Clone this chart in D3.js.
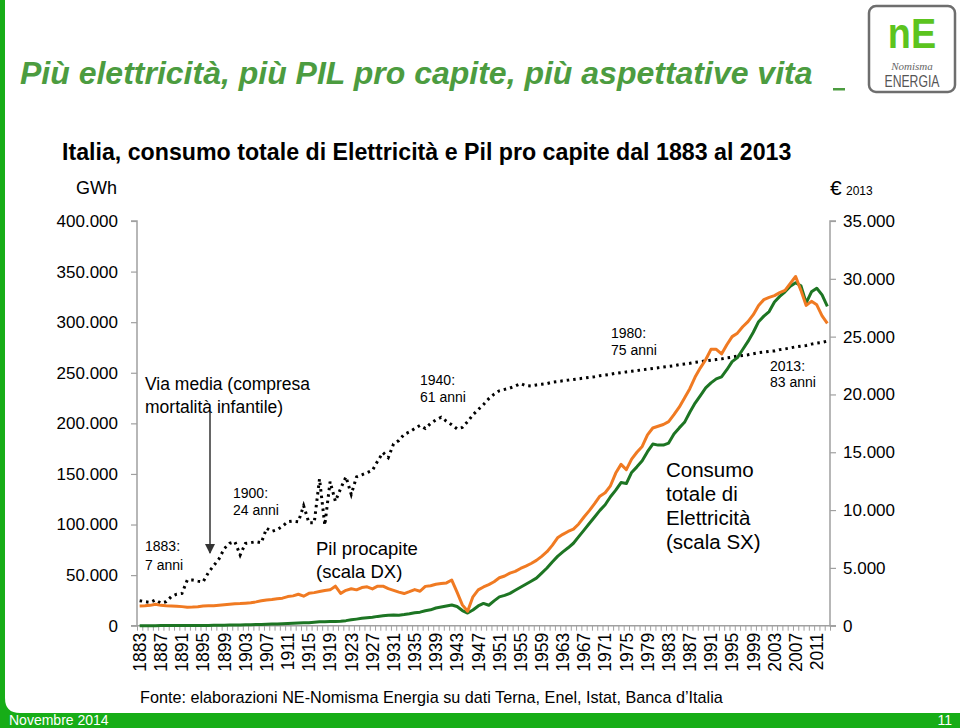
<!DOCTYPE html>
<html><head><meta charset="utf-8">
<script src="https://cdn.jsdelivr.net/npm/d3@7"></script>
<style>
html,body{margin:0;padding:0;background:#fff;}
svg{display:block;font-family:Arial,"Liberation Sans",sans-serif;}
</style></head>
<body>
<svg id="chart" width="960" height="728"></svg>
<script>
// ---------- DATA ----------
const years = d3.range(1883, 2014);
const labelYears = d3.range(1883, 2013, 4);
const leftTicks = [0, 50000, 100000, 150000, 200000, 250000, 300000, 350000, 400000];
const rightTicks = [0, 5000, 10000, 15000, 20000, 25000, 30000, 35000];

// Pil procapite (€ 2013), right scale
const gdpPerCapita = [
 1700,1720,1760,1850,1760,1720,1700,1690,1650,1600, // 1883-1892
 1610,1640,1700,1720,1730,1770,1820,1860,1890,1910, // 1893-1902
 1950,1990,2060,2150,2230,2260,2330,2380,2520,2580, // 1903-1912
 2720,2550,2800,2860,2950,3050,3100,3420,2800,3060, // 1913-1922
 3200,3100,3300,3360,3180,3420,3420,3200,3050,2900, // 1923-1932
 2780,2940,3120,2980,3400,3460,3580,3640,3700,3950, // 1933-1942
 2900,1800,1250,2500,3100,3350,3550,3800,4150,4300, // 1943-1952
 4550,4700,4950,5150,5380,5650,6000,6400,6950,7600, // 1953-1962
 7900,8150,8350,8800,9400,9950,10550,11200,11500,12100, // 1963-1972
 13200,13950,13500,14400,15000,15500,16500,17100,17250,17400, // 1973-1982
 17650,18250,18900,19700,20500,21500,22300,23000,23900,23900, // 1983-1992
 23500,24300,25000,25300,25850,26300,26900,27700,28200,28400, // 1993-2002
 28550,28800,29000,29600,30200,29000,27700,28050,27750,26800, // 2003-2012
 26150 // 2013
];

// Consumo totale di elettricità (GWh), left scale
const electricity = [
 10,20,40,60,80,100,120,150,170,190,               // 1883-1892
 210,230,260,300,350,420,500,600,700,800,          // 1893-1902
 900,1000,1150,1300,1450,1600,1750,1950,2150,2400, // 1903-1912
 2600,2800,3000,3400,3800,4000,4100,4200,4500,5000, // 1913-1922
 5800,6500,7300,7800,8400,9200,9800,10400,10500,10400, // 1923-1932
 11000,11800,12800,13400,14800,15700,17500,18500,19500,20500, // 1933-1942
 19000,15000,12500,15500,19500,22000,20200,24500,28500,30000, // 1943-1952
 32000,35000,38000,41000,44000,47000,52000,57000,63000,68500, // 1953-1962
 73000,77000,81500,88000,94500,101000,107500,114000,119500,127500, // 1963-1972
 134000,141500,140500,151500,157000,163000,172000,179500,178500,178500, // 1973-1982
 180500,189500,195500,201000,211000,220000,227500,235000,240000,244000, // 1983-1992
 246000,253000,261000,265000,273000,281000,290000,300500,306000,310500, // 1993-2002
 320000,325500,330000,335500,339000,336000,319000,330000,333500,327000, // 2003-2012
 315500 // 2013
];

// Vita media (anni), hidden scale
const lifeExpectancy = [
 7.3,7.0,6.8,7.5,6.6,7.0,8.5,9.2,9.4,13.3,         // 1883-1892
 13.3,13.0,12.8,15.5,17.5,19.5,22.5,24.0,24.5,20.6, // 1893-1902
 24.0,24.2,24.5,24.2,28.4,27.5,28.0,29.0,30.3,30.5, // 1903-1912
 30.3,35.0,30.0,30.0,42.8,29.3,42.0,36.3,40.0,43.4, // 1913-1922
 38.3,43.4,44.0,44.6,45.3,48.0,50.5,49.0,53.0,54.0, // 1923-1932
 55.8,56.5,57.5,58.4,57.5,59.0,60.0,60.8,59.6,58.6, // 1933-1942
 57.4,57.8,59.5,61.5,63.0,64.5,66.2,67.5,68.5,68.9, // 1943-1952
 69.3,69.9,70.6,70.0,69.9,70.2,70.4,70.6,71.0,71.2, // 1953-1962
 71.4,71.6,71.8,72.0,72.2,72.4,72.6,72.9,73.1,73.3, // 1963-1972
 73.6,73.8,74.0,74.2,74.4,74.6,74.8,75.0,75.2,75.4, // 1973-1982
 75.6,75.8,76.1,76.3,76.5,76.8,77.0,77.2,77.4,77.6, // 1983-1992
 77.8,78.1,78.3,78.6,78.8,79.0,79.3,79.6,79.8,80.0, // 1993-2002
 80.1,80.5,80.7,81.0,81.3,81.5,81.7,82.1,82.4,82.6, // 2003-2012
 83.0 // 2013
];

// ---------- CHART ----------
const svg = d3.select("#chart");
const W = 960, H = 728;
const green = "#17ad17";
const plot = {left: 137, right: 830, top: 221, bottom: 625.7};

// frame decorations
svg.append("rect").attr("x",0).attr("y",0).attr("width",5).attr("height",H).attr("fill",green);
svg.append("rect").attr("x",0).attr("y",713).attr("width",W).attr("height",15).attr("fill",green);
svg.append("path").attr("d","M5,698 Q5,713 20,713 L5,713 Z").attr("fill",green);
svg.append("text").attr("x",9).attr("y",725).attr("fill","#fff").attr("font-size",14).text("Novembre 2014");
svg.append("text").attr("x",952).attr("y",725).attr("fill","#fff").attr("font-size",14).attr("text-anchor","end").text("11");

// title
svg.append("text").attr("x",20).attr("y",84)
  .attr("font-size",32).attr("font-weight","bold").attr("font-style","italic")
  .attr("fill","#4c9c40").text("Più elettricità, più PIL pro capite, più aspettative vita");
svg.append("rect").attr("x",833).attr("y",88).attr("width",12).attr("height",2.5).attr("fill","#4c9c40");

// logo
const logo = svg.append("g");
logo.append("rect").attr("x",869).attr("y",6).attr("width",86).attr("height",86).attr("rx",7)
  .attr("fill","#fff").attr("stroke","#6e6e6e").attr("stroke-width",2.5);
logo.append("text").attr("x",912).attr("y",48).attr("text-anchor","middle")
  .attr("font-size",42).attr("font-weight","bold").attr("fill","#5cc41e")
  .attr("transform","translate(912,0) scale(0.9,1) translate(-912,0)").text("nE");
logo.append("text").attr("x",912).attr("y",70).attr("text-anchor","middle")
  .attr("font-size",11).attr("font-style","italic").attr("font-family","Liberation Serif, serif")
  .attr("fill","#666").text("Nomisma");
logo.append("text").attr("x",912).attr("y",87).attr("text-anchor","middle")
  .attr("font-size",17).attr("fill","#555")
  .attr("transform","translate(912,0) scale(0.72,1) translate(-912,0)").text("ENERGIA");

// subtitle
svg.append("text").attr("x",62).attr("y",160).attr("font-size",23.2).attr("font-weight","bold")
  .attr("fill","#000").text("Italia, consumo totale di Elettricità e Pil pro capite dal 1883 al 2013");

// scales
const x = d3.scaleBand().domain(years).range([plot.left, plot.right]).padding(0);
const xc = d => x(d) + x.bandwidth()/2;
const xi = d3.scaleLinear().domain([0, years.length]).range([plot.left, plot.right]);
const yL = d3.scaleLinear().domain([0, 400000]).range([plot.bottom, plot.top]);
const yR = d3.scaleLinear().domain([0, 35000]).range([plot.bottom, plot.top]);
const yLife = d3.scaleLinear().domain([0, 118]).range([plot.bottom, plot.top]);

const fmt = v => d3.format(",")(v).replace(/,/g, ".");
const axisColor = "#a0a0a0";

// left axis
const gL = svg.append("g").attr("transform",`translate(${plot.left},0)`)
  .call(d3.axisLeft(yL).tickValues(leftTicks).tickSize(6).tickPadding(13).tickFormat(fmt));
// right axis
const gR = svg.append("g").attr("transform",`translate(${plot.right},0)`)
  .call(d3.axisRight(yR).tickValues(rightTicks).tickSize(6).tickPadding(7).tickFormat(fmt));
[gL, gR].forEach(g => {
  g.select(".domain").attr("stroke",axisColor).attr("stroke-width",1.5);
  g.selectAll(".tick line").attr("stroke",axisColor).attr("stroke-width",1.2);
  g.selectAll(".tick text").attr("font-size",17).attr("fill","#000").attr("font-family","Arial,Liberation Sans,sans-serif");
});
gL.select(".domain").attr("d", `M-6,${plot.top}H0V${plot.bottom}H-6`);
gR.select(".domain").attr("d", `M6,${plot.top}H0V${plot.bottom}H6`);

// bottom axis: minor ticks at category boundaries
const gMinor = svg.append("g").attr("transform",`translate(0,${plot.bottom})`)
  .call(d3.axisBottom(xi).tickValues(d3.range(0, years.length+1)).tickSize(5).tickFormat(""));
gMinor.select(".domain").attr("stroke",axisColor).attr("stroke-width",1.5)
  .attr("d", `M${plot.left},0H${plot.right+6}`);
gMinor.selectAll(".tick line").attr("stroke",axisColor).attr("stroke-width",1);

// bottom axis labels
const gX = svg.append("g").attr("transform",`translate(0,${plot.bottom})`)
  .call(d3.axisBottom(x).tickValues(labelYears).tickSize(0));
gX.select(".domain").remove();
gX.selectAll(".tick text")
  .attr("transform","rotate(-90)").attr("x",-7).attr("y",0).attr("dy","0.36em")
  .style("text-anchor","end").attr("font-size",17.5).attr("fill","#000")
  .attr("font-family","Arial,Liberation Sans,sans-serif");

// axis unit labels
svg.append("text").attr("x",76).attr("y",194).attr("font-size",18).text("GWh");
svg.append("text").attr("x",830).attr("y",195).attr("font-size",21).text("€");
svg.append("text").attr("x",846).attr("y",195).attr("font-size",12).text("2013");

// lines
const lineGdp = d3.line().x((d,i)=>xc(years[i])).y(d=>yR(d));
const lineEl = d3.line().x((d,i)=>xc(years[i])).y(d=>yL(d));
const lineLife = d3.line().x((d,i)=>xc(years[i])).y(d=>yLife(d));

svg.append("path").datum(lifeExpectancy).attr("d",lineLife)
  .attr("fill","none").attr("stroke","#000").attr("stroke-width",3)
  .attr("stroke-dasharray","2.5 4");
svg.append("path").datum(electricity).attr("d",lineEl)
  .attr("fill","none").attr("stroke","#1d7523").attr("stroke-width",3).attr("stroke-linejoin","round");
svg.append("path").datum(gdpPerCapita).attr("d",lineGdp)
  .attr("fill","none").attr("stroke","#f07a22").attr("stroke-width",3).attr("stroke-linejoin","round");

// annotations
function multi(xp, yp, lines, size, lh){
  const t = svg.append("text").attr("x",xp).attr("y",yp).attr("font-size",size).attr("fill","#000");
  lines.forEach((l,i)=>t.append("tspan").attr("x",xp).attr("dy", i===0?0:lh).text(l));
}
multi(145, 390, ["Via media (compresa", "mortalità infantile)"], 17.5, 23);
multi(145, 551, ["1883:", "7 anni"], 14, 19);
multi(233, 498, ["1900:", "24 anni"], 14, 17);
multi(316, 555, ["Pil procapite", "(scala DX)"], 18.5, 23);
multi(420, 385, ["1940:", "61 anni"], 14, 17);
multi(611, 338, ["1980:", "75 anni"], 14, 17);
multi(770, 371, ["2013:", "83 anni"], 14, 15.5);
multi(666, 477, ["Consumo", "totale di", "Elettricità", "(scala SX)"], 20.5, 24);

// arrow
svg.append("defs").append("marker").attr("id","arr").attr("viewBox","0 0 10 10")
  .attr("refX",9).attr("refY",5).attr("markerWidth",7).attr("markerHeight",7).attr("orient","auto")
  .append("path").attr("d","M0,0L10,5L0,10Z").attr("fill","#333");
svg.append("line").attr("x1",210).attr("y1",412).attr("x2",210).attr("y2",553)
  .attr("stroke","#333").attr("stroke-width",1.5).attr("marker-end","url(#arr)");

// source
svg.append("text").attr("x",140).attr("y",703).attr("font-size",16.2).attr("fill","#000")
  .text("Fonte: elaborazioni NE-Nomisma Energia su dati Terna, Enel, Istat, Banca d’Italia");
</script>
</body></html>
